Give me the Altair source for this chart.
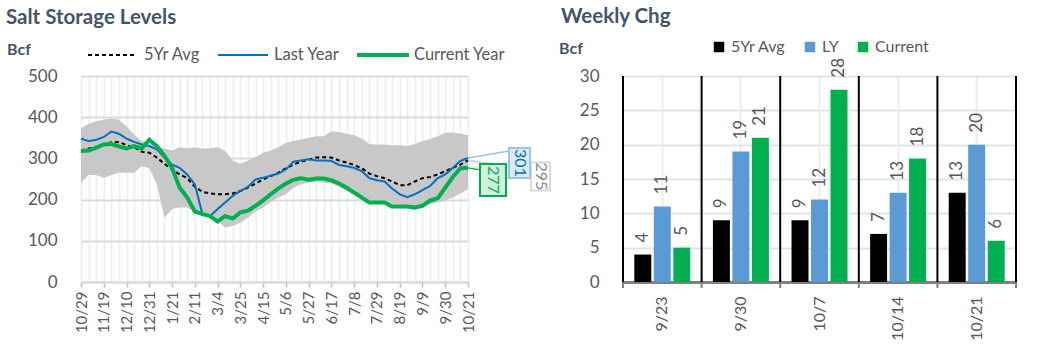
import json
import altair as alt
import pandas as pd

FONT = "Lato"
TXT = "#595959"
HEAD = "#44546a"

# ---------------- Left chart data (weekly, 10/29 .. 10/21) ----------------
tick_labels = ['10/29', '11/19', '12/10', '12/31', '1/21', '2/11', '3/4', '3/25', '4/15',
               '5/6', '5/27', '6/17', '7/8', '7/29', '8/19', '9/9', '9/30', '10/21']

avg5 = [319, 324, 327, 334, 339, 340, 332, 327, 316, 314, 302, 287, 273, 261, 252, 231,
        219, 215, 213, 213, 215, 221, 229, 239, 249, 257, 265, 276, 285, 292, 297, 302,
        303, 302, 295, 290, 284, 276, 263, 257, 252, 244, 235, 235, 244, 252, 255, 261,
        269, 277, 285, 295]

last_year = [348, 342, 345, 352, 365, 360, 348, 340, 334, 330, 322, 302, 285, 277, 261, 237,
             165, 160, 177, 193, 209, 221, 231, 249, 253, 258, 263, 273, 292, 295, 298, 295,
             295, 294, 284, 281, 277, 269, 252, 247, 244, 227, 213, 206, 213, 223, 233, 252,
             261, 277, 294, 301]

current = [318, 319, 326, 334, 335, 329, 324, 330, 324, 345, 330, 306, 277, 229, 205, 171,
           165, 160, 147, 160, 154, 169, 173, 185, 198, 213, 227, 239, 248, 252, 248, 251,
           251, 247, 239, 229, 217, 205, 193, 193, 193, 183, 183, 183, 181, 185, 198, 203,
           229, 255, 276, 277]

band_hi = [374, 384, 390, 394, 397, 394, 378, 358, 342, 338, 327, 324, 319, 327, 324, 327,
           324, 324, 327, 318, 294, 287, 294, 303, 314, 319, 327, 338, 342, 346, 350, 354,
           354, 366, 364, 360, 356, 348, 335, 334, 334, 332, 332, 330, 335, 342, 347, 354,
           362, 363, 360, 356]

band_lo = [241, 260, 260, 253, 260, 265, 265, 265, 281, 276, 237, 156, 177, 181, 181, 169,
           169, 163, 148, 132, 136, 144, 156, 171, 181, 195, 205, 213, 229, 237, 241, 244,
           241, 239, 231, 221, 213, 205, 195, 190, 189, 189, 187, 181, 174, 181, 189, 193,
           198, 205, 215, 225]

series_names = ['5Yr Avg', 'Last Year', 'Current Year']
series_colors = ['#000000', '#0070c0', '#00b050']
series_dash = [[4, 3], [1, 0], [1, 0]]
series_width = [2, 2, 4]

# ---------------- Right chart data ----------------
chg_weeks = ['9/23', '9/30', '10/7', '10/14', '10/21']
chg_avg5 = [4, 9, 9, 7, 13]
chg_ly = [11, 19, 12, 13, 20]
chg_cur = [5, 21, 28, 18, 6]
chg_names = ['5Yr Avg', 'LY', 'Current']
chg_colors = ['#000000', '#5b9bd5', '#00b050']

# ---------------- Build tables ----------------
weeks = list(range(len(avg5)))
band_df = pd.DataFrame({'week': weeks, 'lo': band_lo, 'hi': band_hi})
line_df = pd.concat([
    pd.DataFrame({'week': weeks, 'value': vals, 'series': name, 'order': i, 'w': wd})
    for i, (name, vals, wd) in enumerate(zip(series_names, [avg5, last_year, current], series_width))
], ignore_index=True)

W1, H = 387, 206
W2 = 393

label_expr = ("datum.value % 3 === 0 ? " + json.dumps(tick_labels) +
              "[datum.value / 3] : ''")


def x_left():
    return alt.X('week:Q',
                 scale=alt.Scale(domain=[0, weeks[-1]], nice=False, zero=False),
                 axis=alt.Axis(values=weeks, labelExpr=label_expr, labelAngle=270,
                               labelOverlap=False, labelFlush=False,
                               grid=True, gridColor='#edf0f3', gridWidth=2,
                               tickColor='#bfbfbf', tickSize=5, tickWidth=1.5,
                               tickOpacity={"condition": {"test": "datum.value % 3 === 0", "value": 1}, "value": 0},
                               domainColor='#d9d9d9', domainWidth=2,
                               labelFontSize=15, labelColor=TXT, labelPadding=4,
                               title=None))


def y_left(field):
    return alt.Y(field,
                 scale=alt.Scale(domain=[0, 500], nice=False),
                 axis=alt.Axis(values=[0, 100, 200, 300, 400, 500], grid=True,
                               gridColor='#d9dce2', gridWidth=2, domain=False, ticks=False,
                               labelFontSize=17, labelColor=TXT, labelPadding=24,
                               title=None))


band = alt.Chart(band_df).mark_area(color='#c8c8c8').encode(
    x=x_left(), y=y_left('lo:Q'), y2='hi:Q')

lines = alt.Chart(line_df).mark_line().encode(
    x=x_left(), y=y_left('value:Q'),
    color=alt.Color('series:N', sort=series_names,
                    scale=alt.Scale(domain=series_names, range=series_colors), legend=None),
    strokeDash=alt.StrokeDash('series:N', sort=series_names,
                              scale=alt.Scale(domain=series_names, range=series_dash),
                              legend=None),
    strokeWidth=alt.StrokeWidth('w:Q', scale=None),
    order=alt.Order('order:Q'),
)

# hand-drawn legend key for the line chart (key x-start, key x-end, label x; pixels)
legend_layout = [(7, 53, 63), (137, 187, 193), (276, 328, 333)]
legend_layers = []
title_df = pd.DataFrame({'t': ['x']})
for name, col, dash, wd, (k0, k1, tx) in zip(series_names, series_colors, series_dash,
                                            series_width, legend_layout):
    ldf = pd.DataFrame({'series': [name]})
    legend_layers.append(alt.Chart(ldf).mark_rule(color=col, strokeDash=dash, strokeWidth=wd).encode(
        x=alt.value(k0), x2=alt.value(k1), y=alt.value(-21)))
    legend_layers.append(alt.Chart(ldf).mark_text(align='left', baseline='middle', fontSize=16.5,
                                                  color=TXT).encode(
        x=alt.value(tx), y=alt.value(-21), text='series:N'))

# callouts for last values: (value, text colour, fill, border, box dx1,dx2,dy1,dy2, leader end dx,dy, leader colour)
last = weeks[-1]
callouts = [
    (avg5[-1], '#8c8c8c', '#ffffff', '#d9d9d9', 63, 82, 2, 30, 63, 9, '#c5ced9'),
    (last_year[-1], '#0070c0', '#dbeaf7', '#9dc3e6', 41, 62, -10, 20, 41, -7, '#9dc3e6'),
    (current[-1], '#00b050', '#d2f1dc', '#00b050', 12, 38, -4, 28, 12, 2, '#00b050'),
]
callout_layers = []
for val, tcol, fill, border, bx1, bx2, by1, by2, lx, ly, lcol in callouts:
    cdf = pd.DataFrame({'week': [last], 'value': [val], 'label': [str(val)]})
    cb = alt.Chart(cdf)
    callout_layers.append(cb.mark_rule(color=lcol, strokeWidth=1.5, x2Offset=lx, y2Offset=ly).encode(
        x=x_left(), y=y_left('value:Q'), x2='week:Q', y2='value:Q'))
for val, tcol, fill, border, bx1, bx2, by1, by2, lx, ly, lcol in callouts:
    cdf = pd.DataFrame({'week': [last], 'value': [val], 'label': [str(val)]})
    cb = alt.Chart(cdf)
    callout_layers.append(cb.mark_rect(fill=fill, stroke=border, strokeWidth=2,
                                       xOffset=bx1, x2Offset=bx2, yOffset=by1, y2Offset=by2).encode(
        x=x_left(), y=y_left('value:Q'), x2='week:Q', y2='value:Q'))
    callout_layers.append(cb.mark_text(angle=90, align='center', baseline='middle', fontSize=16,
                                       color=tcol, xOffset=(bx1 + bx2) / 2,
                                       yOffset=(by1 + by2) / 2).encode(
        x=x_left(), y=y_left('value:Q'), text='label:N'))

left_title = alt.Chart(title_df).mark_text(
    text='Salt Storage Levels', align='left', baseline='alphabetic', fontSize=20.5,
    fontWeight='bold', color=HEAD).encode(x=alt.value(-75), y=alt.value(-52))
left_unit = alt.Chart(title_df).mark_text(
    text='Bcf', align='left', baseline='alphabetic', fontSize=16,
    fontWeight='bold', color=HEAD).encode(x=alt.value(-74), y=alt.value(-21))

left = alt.layer(band, lines, *callout_layers, *legend_layers, left_title, left_unit).properties(
    width=W1, height=H)

# ---------------- Right chart ----------------
chg_df = pd.concat([
    pd.DataFrame({'cat': chg_weeks, 'value': vals, 'series': name})
    for name, vals in zip(chg_names, [chg_avg5, chg_ly, chg_cur])
], ignore_index=True)


def x_right(band_pos=None):
    kw = {}
    if band_pos is not None:
        kw['bandPosition'] = band_pos
    return alt.X('cat:N', sort=chg_weeks,
                 scale=alt.Scale(domain=chg_weeks, paddingInner=0, paddingOuter=0),
                 axis=alt.Axis(labelAngle=270, grid=True, gridColor='#ededed', gridWidth=2,
                               bandPosition=0.5, ticks=False, domainColor='#808080',
                               domainWidth=3, labelFontSize=16, labelColor=TXT,
                               labelPadding=14, title=None), **kw)


def y_right():
    return alt.Y('value:Q', scale=alt.Scale(domain=[0, 30], nice=False),
                 axis=alt.Axis(values=[0, 5, 10, 15, 20, 25, 30], grid=True,
                               gridColor='#e0e3e8', gridWidth=2, domain=False, ticks=False,
                               labelFontSize=17, labelColor=TXT, labelPadding=24, title=None))


xoff = alt.XOffset('series:N', sort=chg_names,
                   scale=alt.Scale(domain=chg_names, paddingInner=0.13, paddingOuter=0.58))

bars = alt.Chart(chg_df).mark_bar().encode(
    x=x_right(), xOffset=xoff, y=y_right(),
    color=alt.Color('series:N', sort=chg_names,
                    scale=alt.Scale(domain=chg_names, range=chg_colors),
                    legend=alt.Legend(orient='none', legendX=88, legendY=-37,
                                      direction='horizontal', title=None,
                                      symbolType='square', symbolSize=110,
                                      symbolStrokeWidth=0, labelFontSize=16,
                                      labelColor=TXT, labelOffset=4,
                                      columnPadding=16, padding=0)))

bar_text = alt.Chart(chg_df).mark_text(angle=270, align='left', baseline='middle',
                                       dx=12, fontSize=17, color=TXT).encode(
    x=x_right(), xOffset=xoff, y=y_right(), text='value:Q')

sep_df = pd.DataFrame({'cat': chg_weeks})
sep = alt.Chart(sep_df).mark_rule(color='black', strokeWidth=2).encode(
    x=x_right(0), y=alt.value(0), y2=alt.value(H))
sep_end = alt.Chart(sep_df.tail(1)).mark_rule(color='black', strokeWidth=2).encode(
    x=x_right(1), y=alt.value(0), y2=alt.value(H))
tick = alt.Chart(sep_df).mark_rule(color='#808080', strokeWidth=2).encode(
    x=x_right(0), y=alt.value(H), y2=alt.value(H + 6))
tick_end = alt.Chart(sep_df.tail(1)).mark_rule(color='#808080', strokeWidth=2).encode(
    x=x_right(1), y=alt.value(H), y2=alt.value(H + 6))

right_title = alt.Chart(title_df).mark_text(
    text='Weekly Chg', align='left', baseline='alphabetic', fontSize=20.5,
    fontWeight='bold', color=HEAD).encode(x=alt.value(-62), y=alt.value(-53))
right_unit = alt.Chart(title_df).mark_text(
    text='Bcf', align='left', baseline='alphabetic', fontSize=16,
    fontWeight='bold', color=HEAD).encode(x=alt.value(-64), y=alt.value(-22))

right = alt.layer(bars, sep, sep_end, tick, tick_end, bar_text, right_title, right_unit).properties(
    width=W2, height=H)

chart = alt.hconcat(left, right, spacing=8).resolve_scale(
    color='independent', x='independent', y='independent'
).properties(
    padding={'left': 6, 'top': 7, 'right': 0, 'bottom': 0}
).configure(font=FONT).configure_view(stroke=None)

chart.save("out.html", embed_options={"renderer": "svg", "actions": False})
